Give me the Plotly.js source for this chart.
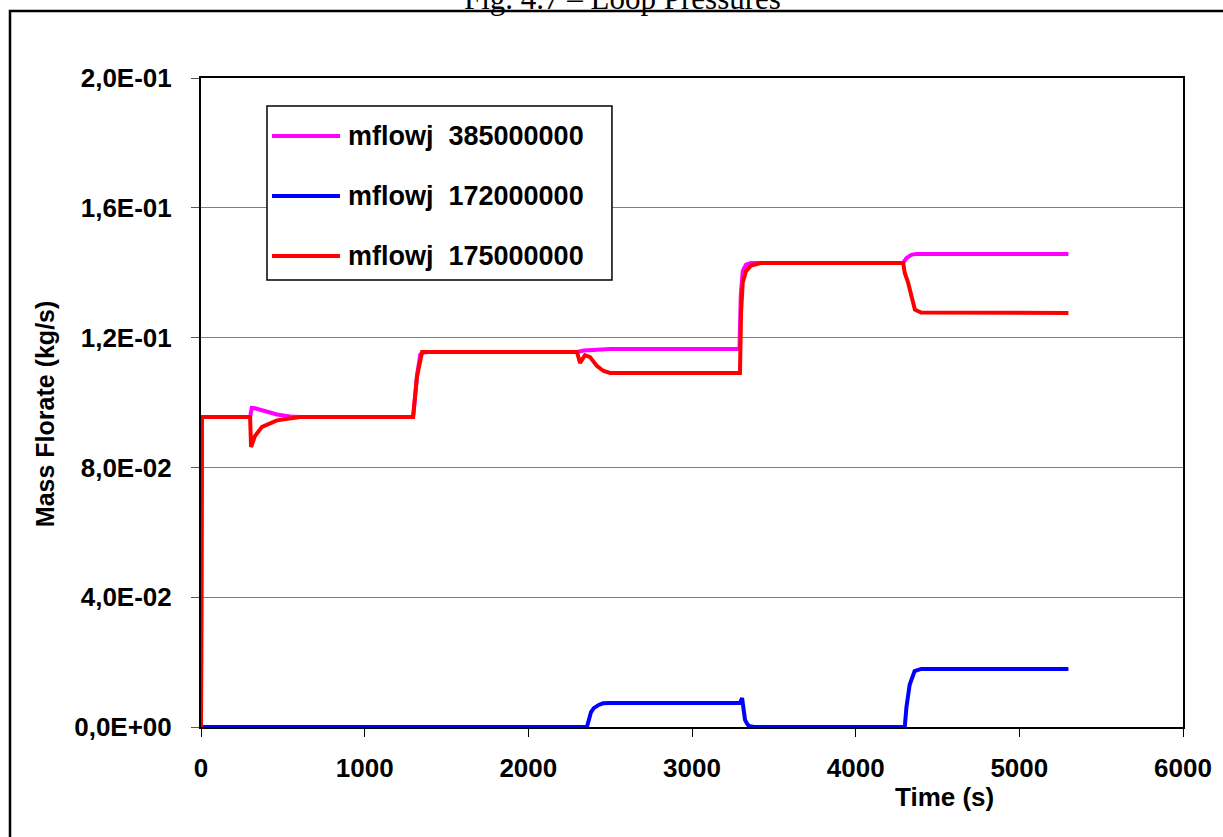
<!DOCTYPE html>
<html>
<head>
<meta charset="utf-8">
<script src="https://cdn.plot.ly/plotly-3.0.1.min.js"></script>
<style>html,body{margin:0;padding:0;background:#fff;}#chart{width:1223px;height:837px;}</style>
</head>
<body>
<div id="chart"></div>
<script>
// ---- data ----
const seriesNames = ["mflowj  385000000", "mflowj  172000000", "mflowj  175000000"];
const seriesColors = ["#ff00ff", "#0000ff", "#ff0000"];

const t385 = [0, 6, 300, 310, 330, 391, 464, 544, 605, 1296, 1320, 1340, 1360, 1400, 2297, 2340, 2400, 2500, 3290, 3298, 3310, 3330, 3360, 3400, 4290, 4310, 4340, 4370, 4400, 5300];
const v385 = [0, 0.0955, 0.0955, 0.0983, 0.0982, 0.0972, 0.0963, 0.0957, 0.0955, 0.0955, 0.1085, 0.1148, 0.1154, 0.1156, 0.1156, 0.1160, 0.1163, 0.1165, 0.1165, 0.1330, 0.1405, 0.1425, 0.1430, 0.1430, 0.1430, 0.1445, 0.1455, 0.1458, 0.1458, 0.1458];

const t172 = [0, 2358, 2383, 2400, 2430, 2456, 2500, 3293, 3306, 3316, 3324, 3340, 3354, 3380, 4300, 4310, 4330, 4360, 4400, 5300];
const v172 = [0, 0, 0.0046, 0.0058, 0.0068, 0.0073, 0.0074, 0.0074, 0.0089, 0.0060, 0.0022, 0.0007, 0.0002, 0, 0, 0.0060, 0.0130, 0.0172, 0.0179, 0.0179];

const t175 = [0, 6, 300, 306, 330, 373, 464, 605, 1296, 1320, 1351, 1380, 2297, 2316, 2346, 2377, 2420, 2460, 2500, 3293, 3300, 3310, 3330, 3360, 3420, 4290, 4300, 4320, 4345, 4362, 4400, 5300];
const v175 = [0, 0.0955, 0.0955, 0.0863, 0.0897, 0.0925, 0.0945, 0.0955, 0.0955, 0.1080, 0.1156, 0.1156, 0.1156, 0.1122, 0.1146, 0.1140, 0.1112, 0.1097, 0.1091, 0.1091, 0.1280, 0.1370, 0.1405, 0.1422, 0.1430, 0.1430, 0.1399, 0.1370, 0.1320, 0.1286, 0.1277, 0.1276];

const yTickVals = [0, 0.04, 0.08, 0.12, 0.16, 0.2];
const yTickText = ["0,0E+00", "4,0E-02", "8,0E-02", "1,2E-01", "1,6E-01", "2,0E-01"];
const xTickVals = [0, 1000, 2000, 3000, 4000, 5000, 6000];

const chartTitle = "Fig. 4.7 \u2013 Loop Pressures";
const xTitle = "Time (s)";
const yTitle = "Mass Florate (kg/s)";

// ---- traces ----
const xs = [t385, t172, t175];
const ys = [v385, v172, v175];
const traces = xs.map((x, i) => ({
  x: x, y: ys[i], type: "scatter", mode: "lines", name: seriesNames[i],
  line: {color: seriesColors[i], width: 4}, showlegend: false, hoverinfo: "skip"
}));

const SANS = "Liberation Sans, Arial, sans-serif";

// ---- custom legend (Excel style) ----
const lgX0 = 0.0672, lgX1 = 0.4185, lgY0 = 0.6888, lgY1 = 0.9568;
const rowY = [0.9106, 0.8182, 0.7257];
const shapes = [
  // outer chart frame
  {type: "rect", xref: "paper", yref: "paper", x0: -0.1945, x1: 1.2, y0: -0.3, y1: 1.1032,
   line: {color: "#000", width: 2.5}, fillcolor: "rgba(0,0,0,0)", layer: "below"},
  // legend box
  {type: "rect", xref: "paper", yref: "paper", x0: lgX0, x1: lgX1, y0: lgY0, y1: lgY1,
   line: {color: "#000", width: 1.5}, fillcolor: "#fff"}
];
const annotations = [
  {text: chartTitle, xref: "paper", yref: "paper", x: 0.4297, y: 1.0925, xanchor: "center", yanchor: "bottom",
   showarrow: false, font: {family: "Liberation Serif, Times New Roman, serif", size: 31, color: "#000"}},
  {text: "<b>" + xTitle + "</b>", xref: "paper", yref: "paper", x: 0.7576, y: -0.1079, xanchor: "center", yanchor: "middle",
   showarrow: false, font: {family: SANS, size: 26, color: "#000"}},
  {text: "<b>" + yTitle + "</b>", xref: "paper", yref: "paper", x: -0.1589, y: 0.482, xanchor: "center", yanchor: "middle",
   textangle: -90, showarrow: false, font: {family: SANS, size: 25, color: "#000"}}
];
seriesNames.forEach((n, i) => {
  shapes.push({type: "line", xref: "paper", yref: "paper", x0: 0.0723, x1: 0.1415, y0: rowY[i], y1: rowY[i],
    line: {color: seriesColors[i], width: 4}});
  annotations.push({text: "<b>" + n.replace(/  /g, "\u00a0 ") + "</b>", xref: "paper", yref: "paper", x: 0.1477, y: rowY[i],
    xanchor: "left", yanchor: "middle", showarrow: false,
    font: {family: SANS, size: 27, color: "#000"}});
});

const layout = {
  width: 1223, height: 837,
  margin: {l: 201, r: 40, t: 78, b: 110, pad: 0},
  paper_bgcolor: "#fff", plot_bgcolor: "#fff",
  font: {family: SANS, size: 26, color: "#000"},
  xaxis: {
    range: [0, 6000], tickvals: xTickVals, ticks: "outside", ticklen: 8, tickcolor: "#000", tickwidth: 1,
    showline: true, linecolor: "#000", linewidth: 2, mirror: true, showgrid: false, zeroline: false,
    tickfont: {family: SANS, size: 26, color: "#000", weight: "bold"},
    ticklabelstandoff: 9
  },
  yaxis: {
    range: [0, 0.2], tickvals: yTickVals, ticktext: yTickText, ticks: "outside", ticklen: 8, tickcolor: "#555", tickwidth: 1,
    showline: true, linecolor: "#000", linewidth: 2, mirror: true,
    showgrid: true, gridcolor: "#808080", gridwidth: 1, zeroline: false,
    tickfont: {family: SANS, size: 26, color: "#000", weight: "bold"},
    ticklabelstandoff: 14
  },
  shapes: shapes,
  annotations: annotations
};

Plotly.newPlot("chart", traces, layout, {displayModeBar: false, staticPlot: true});
</script>
</body>
</html>
